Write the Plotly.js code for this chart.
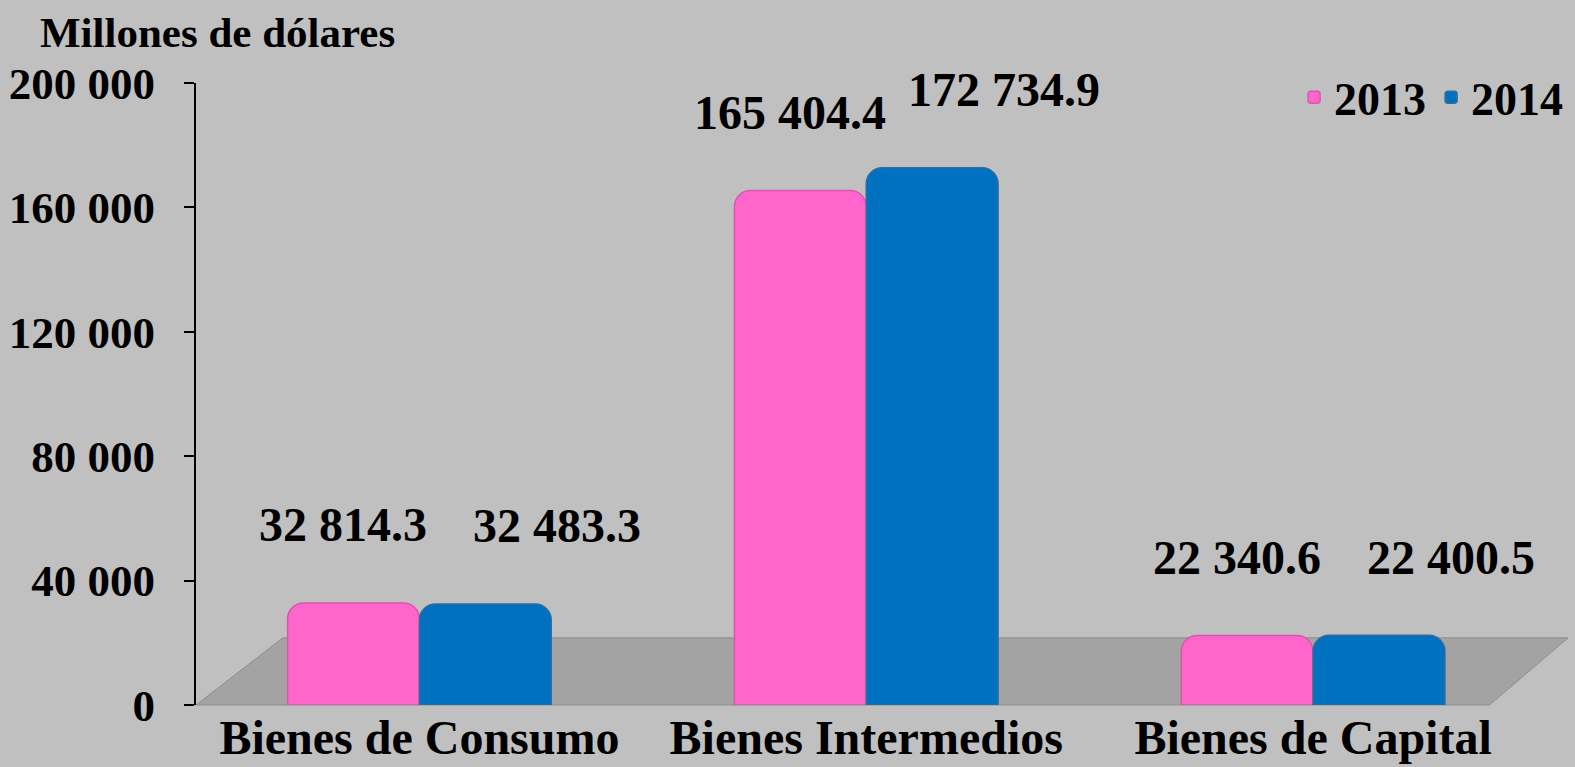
<!DOCTYPE html>
<html>
<head>
<meta charset="utf-8">
<script src="https://cdn.plot.ly/plotly-3.0.1.min.js"></script>
<style>
  html, body { margin: 0; padding: 0; background: #C0C0C0; }
  #chart { width: 1575px; height: 767px; }
</style>
</head>
<body>
<div id="chart"></div>
<script>
// ---- data ----
const categories = ["Bienes de Consumo", "Bienes Intermedios", "Bienes de Capital"];
const seriesNames = ["2013", "2014"];
const values2013 = [32814.3, 165404.4, 22340.6];
const values2014 = [32483.3, 172734.9, 22400.5];
const yTickVals = [0, 40000, 80000, 120000, 160000, 200000];
const yTitle = "Millones de dólares";

const FONT = "Liberation Serif, Times New Roman, serif";

function barTrace(name, vals, color, side) {
  return {
    type: "bar",
    name: name,
    x: categories,
    y: vals,
    marker: { color: color, line: { color: side, width: 1.5 }, cornerradius: 16 },
    hoverinfo: "x+y+name"
  };
}

const traces = [
  barTrace(seriesNames[0], values2013, "#FF66CC", "#D957AD"),
  barTrace(seriesNames[1], values2014, "#0070C0", "#2F6C9E")
];

// value labels, placed through the axes' own scales
const fmt = v => v.toFixed(1).replace(/\B(?=(\d{3})+(?!\d))/g, " ");
const annotations = [];
[[values2013, -76], [values2014, 138]].forEach(([vals, dx]) => {
  vals.forEach((v, i) => {
    annotations.push({
      x: categories[i], y: v, xref: "x", yref: "y",
      text: fmt(v), showarrow: false,
      xanchor: "center", yanchor: "middle",
      xshift: dx, yshift: 78,
      font: { family: FONT, size: 48, color: "#000", weight: "bold" }
    });
  });
});

const layout = {
  width: 1575,
  height: 767,
  paper_bgcolor: "#C0C0C0",
  plot_bgcolor: "rgba(0,0,0,0)",
  separators: ". ",
  margin: { l: 196, r: 0, t: 83, b: 62 },
  barmode: "group",
  bargap: 0.41,
  bargroupgap: 0,
  showlegend: true,
  title: {
    text: yTitle,
    x: 40 / 1575, xanchor: "left", xref: "container",
    y: 1 - 32 / 767, yanchor: "middle", yref: "container",
    font: { family: FONT, size: 43, color: "#000", weight: "bold" }
  },
  xaxis: {
    domain: [0, 0.9725],
    showline: false,
    showgrid: false,
    zeroline: false,
    ticks: "",
    ticklabelstandoff: 0,
    tickfont: { family: FONT, size: 48, color: "#000", weight: "bold" }
  },
  yaxis: {
    range: [0, 200000],
    tickvals: yTickVals,
    tickformat: ",d",
    showline: true,
    linecolor: "#000",
    linewidth: 2,
    ticks: "outside",
    ticklen: 10,
    tickwidth: 2,
    tickcolor: "#000",
    ticklabelstandoff: 20,
    showgrid: false,
    zeroline: false,
    tickfont: { family: FONT, size: 45, color: "#000", weight: "bold" }
  },
  legend: {
    orientation: "h",
    x: 0.995, xanchor: "right",
    y: 0.977, yanchor: "middle",
    bgcolor: "rgba(0,0,0,0)",
    font: { family: FONT, size: 46, color: "#000", weight: "bold" },
    itemwidth: 30,
    tracegroupgap: 0
  },
  annotations: annotations,
  shapes: [
    {
      type: "path",
      xref: "paper", yref: "paper",
      path: "M 0 0 L 0.938 0 L 0.995 0.108 L 0.063 0.108 Z",
      fillcolor: "#A3A3A3",
      line: { color: "#8E8E8E", width: 1 },
      layer: "below"
    }
  ]
};

Plotly.newPlot("chart", traces, layout, { displayModeBar: false, staticPlot: true });
</script>
</body>
</html>
